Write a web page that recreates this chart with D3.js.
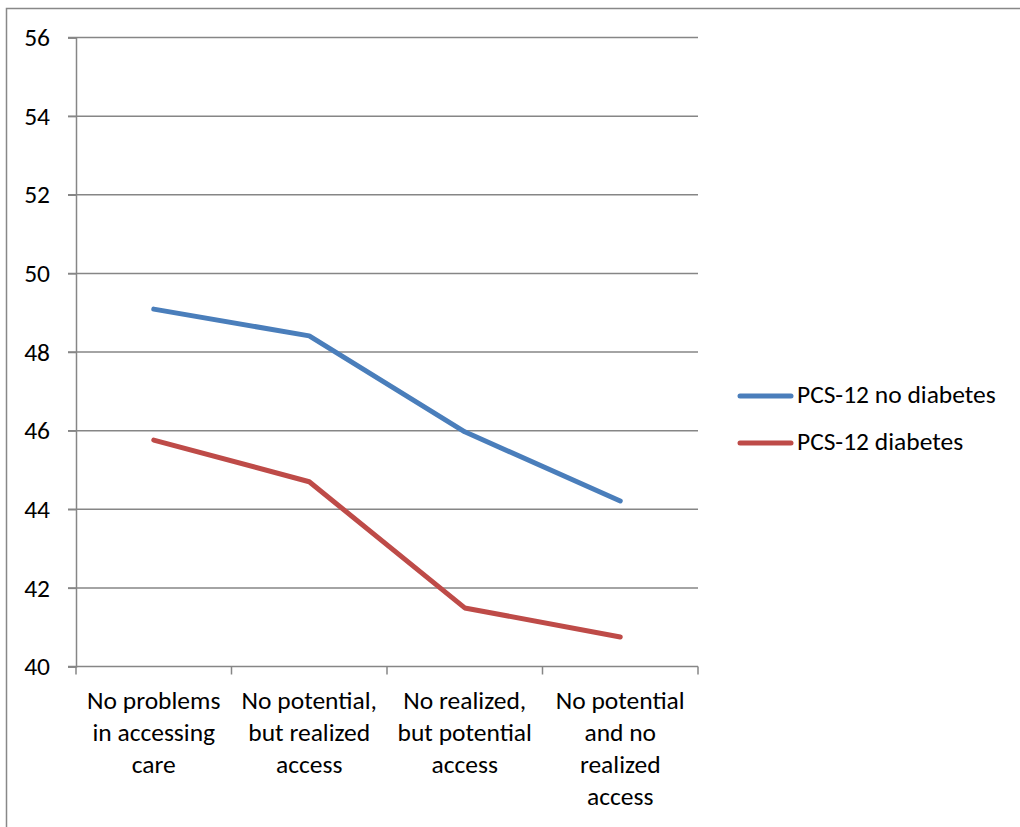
<!DOCTYPE html>
<html>
<head>
<meta charset="utf-8">
<script src="https://cdn.jsdelivr.net/npm/d3@7/dist/d3.min.js"></script>
<style>
  html, body { margin: 0; padding: 0; background: #fff; }
  svg { display: block; }
  text { font-family: Carlito, Lato, "Open Sans", sans-serif; fill: #000; }
</style>
</head>
<body>
<svg id="chart" width="1020" height="827"></svg>
<script>
// Access categories (x axis), wrapped over several lines
const categories = [
  ["No problems", "in accessing", "care"],
  ["No potential,", "but realized", "access"],
  ["No realized,", "but potential", "access"],
  ["No potential", "and no", "realized", "access"]
];
const seriesNames = ["PCS-12 no diabetes", "PCS-12 diabetes"];
const noDiabetes = [49.09, 48.41, 45.97, 44.21];
const diabetes = [45.76, 44.70, 41.49, 40.75];
const yTicks = [40, 42, 44, 46, 48, 50, 52, 54, 56];
const colors = ["#4A7EBB", "#BE4B48"];

const fontSize = "25.5px";
const svg = d3.select("#chart");
const margin = { left: 76, top: 37.5, right: 698, bottom: 666.5 };

// Outer chart-area border
svg.append("rect")
  .attr("x", 6.5).attr("y", 8.5)
  .attr("width", 1100).attr("height", 1000)
  .attr("fill", "none").attr("stroke", "#888").attr("stroke-width", 1.5);

const x = d3.scaleBand()
  .domain(d3.range(categories.length))
  .range([margin.left, margin.right])
  .paddingInner(0).paddingOuter(0);

const y = d3.scaleLinear().domain([40, 56]).range([margin.bottom, margin.top]);

// Horizontal gridlines with short left tick marks
svg.append("g").selectAll("line")
  .data(yTicks.filter(d => d !== 40))
  .join("line")
  .attr("x1", margin.left - 8).attr("x2", margin.right)
  .attr("y1", d => y(d)).attr("y2", d => y(d))
  .attr("stroke", "#868686").attr("stroke-width", 1.5);

// Y axis
const yAxis = svg.append("g")
  .attr("transform", `translate(${margin.left},0)`)
  .call(d3.axisLeft(y).tickValues(yTicks).tickSize(8).tickPadding(18).tickFormat(d3.format("d")));
yAxis.select(".domain").attr("stroke", "#868686").attr("stroke-width", 1.5);
yAxis.selectAll(".tick line").attr("stroke", "#868686").attr("stroke-width", 1.5);
yAxis.selectAll(".tick text")
  .style("font-size", fontSize)
  .style("font-family", "Carlito, Lato, 'Open Sans', sans-serif")
  .attr("fill", "#000");

// X axis with ticks at category boundaries
const xAxisG = svg.append("g");
xAxisG.append("line")
  .attr("x1", margin.left - 8).attr("x2", margin.right)
  .attr("y1", margin.bottom).attr("y2", margin.bottom)
  .attr("stroke", "#868686").attr("stroke-width", 1.5);
const bounds = d3.range(categories.length + 1).map(i =>
  i < categories.length ? x(i) : x(i - 1) + x.bandwidth());
xAxisG.selectAll("line.tick")
  .data(bounds)
  .join("line")
  .attr("class", "tick")
  .attr("x1", d => d).attr("x2", d => d)
  .attr("y1", margin.bottom).attr("y2", margin.bottom + 8)
  .attr("stroke", "#868686").attr("stroke-width", 1.5);

// Category labels
const lineH = 32;
xAxisG.selectAll("text.cat")
  .data(categories)
  .join("text")
  .attr("class", "cat")
  .attr("text-anchor", "middle")
  .style("font-size", fontSize)
  .each(function (lines, i) {
    const t = d3.select(this);
    lines.forEach((ln, j) => {
      t.append("tspan")
        .attr("x", x(i) + x.bandwidth() / 2)
        .attr("y", 709 + j * lineH)
        .text(ln);
    });
  });

// Series lines
const line = d3.line()
  .x((d, i) => x(i) + x.bandwidth() / 2)
  .y(d => y(d));

[noDiabetes, diabetes].forEach((vals, k) => {
  svg.append("path")
    .datum(vals)
    .attr("d", line)
    .attr("fill", "none")
    .attr("stroke", colors[k])
    .attr("stroke-width", 5)
    .attr("stroke-linecap", "round")
    .attr("stroke-linejoin", "round");
});

// Legend
const legend = svg.append("g");
seriesNames.forEach((name, k) => {
  const ly = 396 + k * 47;
  legend.append("line")
    .attr("x1", 740).attr("x2", 791)
    .attr("y1", ly).attr("y2", ly)
    .attr("stroke", colors[k]).attr("stroke-width", 5)
    .attr("stroke-linecap", "round");
  legend.append("text")
    .attr("x", 797).attr("y", ly + 7)
    .style("font-size", fontSize)
    .text(name);
});
</script>
</body>
</html>
